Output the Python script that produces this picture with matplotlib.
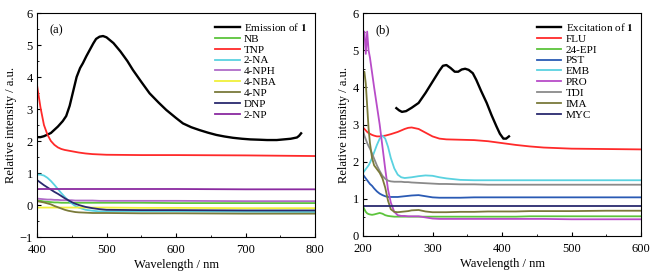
import numpy as np
import matplotlib
matplotlib.use("Agg")
from matplotlib import pyplot as plt
from matplotlib.ticker import MultipleLocator

plt.rcParams['font.family'] = ['Liberation Serif', 'DejaVu Serif']
plt.rcParams['font.size'] = 9
plt.rcParams['mathtext.fontset'] = 'stix'

# ---- panel (a): emission ----
em_x = [400, 405, 410, 420, 430, 437, 442, 447, 452, 457, 462, 466, 471, 476, 481, 485, 490, 495,
        500, 505, 510, 520, 530, 538, 550, 562, 575, 586, 600, 610, 622, 634, 646, 658, 670, 682,
        695, 707, 720, 731, 745, 755, 765, 774, 777, 780]
em_y = [2.12, 2.12, 2.15, 2.25, 2.45, 2.62, 2.78, 3.1, 3.55, 4.0, 4.28, 4.43, 4.65, 4.85, 5.05, 5.19,
        5.26, 5.28, 5.24, 5.15, 5.06, 4.8, 4.5, 4.22, 3.85, 3.49, 3.2, 2.97, 2.72, 2.55, 2.43, 2.34,
        2.26, 2.19, 2.14, 2.1, 2.07, 2.05, 2.04, 2.03, 2.03, 2.05, 2.07, 2.11, 2.16, 2.24]

a_x = [400, 405, 410, 415, 420, 425, 430, 435, 440, 445, 450, 455, 460, 470, 480, 490, 500, 550, 600, 700, 800]
a_series = {
    "NB":    [0.15, 0.13, 0.11, 0.1, 0.09, 0.08, 0.08, 0.07, 0.07, 0.07, 0.07, 0.07, 0.07, 0.07, 0.07, 0.07, 0.07, 0.07, 0.06, 0.06, 0.06],
    "TNP":   [3.75, 3.05, 2.5, 2.2, 2.0, 1.88, 1.8, 1.75, 1.72, 1.7, 1.68, 1.66, 1.64, 1.61, 1.59, 1.58, 1.57, 1.56, 1.56, 1.55, 1.53],
    "2-NA":  [0.95, 0.95, 0.92, 0.85, 0.75, 0.63, 0.5, 0.37, 0.25, 0.14, 0.05, -0.03, -0.08, -0.15, -0.18, -0.2, -0.2, -0.2, -0.2, -0.21, -0.22],
    "4-NPH": [0.2, 0.19, 0.18, 0.17, 0.17, 0.16, 0.16, 0.15, 0.15, 0.15, 0.15, 0.14, 0.14, 0.14, 0.14, 0.13, 0.13, 0.13, 0.13, 0.12, 0.12],
    "4-NBA": [-0.08, -0.08, -0.08, -0.08, -0.08, -0.08, -0.08, -0.08, -0.08, -0.08, -0.08, -0.08, -0.08, -0.08, -0.08, -0.08, -0.08, -0.09, -0.09, -0.1, -0.1],
    "4-NP":  [0.12, 0.1, 0.08, 0.05, 0.02, -0.03, -0.07, -0.11, -0.15, -0.18, -0.2, -0.22, -0.23, -0.24, -0.25, -0.25, -0.25, -0.26, -0.26, -0.27, -0.27],
    "DNP":   [0.78, 0.7, 0.62, 0.55, 0.48, 0.41, 0.35, 0.28, 0.21, 0.15, 0.09, 0.04, 0.0, -0.06, -0.1, -0.13, -0.15, -0.16, -0.16, -0.17, -0.17],
    "2-NP":  [0.5, 0.5, 0.5, 0.5, 0.5, 0.5, 0.5, 0.5, 0.5, 0.5, 0.5, 0.5, 0.5, 0.5, 0.5, 0.5, 0.5, 0.5, 0.5, 0.49, 0.49],
}
a_colors = ["#5cc43c", "#ff2a2a", "#5ad2e0", "#b06cc8", "#f0f03a", "#7a7a3a", "#2a2a6e", "#8a2aa0"]

# ---- panel (b): excitation ----
ex_x = [248, 252, 256, 262, 270, 280, 290, 300, 310, 315, 320, 326, 332, 337, 342, 347, 352, 358,
        363, 370, 378, 385, 392, 397, 402, 406, 410]
ex_y = [3.44, 3.38, 3.34, 3.36, 3.45, 3.58, 3.85, 4.15, 4.45, 4.58, 4.6, 4.52, 4.42, 4.42, 4.48, 4.5,
        4.47, 4.38, 4.2, 3.9, 3.58, 3.25, 2.95, 2.75, 2.62, 2.62, 2.68]

b_x = [200, 202, 204, 206, 208, 210, 213, 216, 220, 224, 228, 232, 236, 240, 245, 250, 255, 260, 265,
       270, 280, 290, 300, 310, 320, 340, 360, 380, 400, 420, 440, 460, 500, 550, 600]
b_series = {
    "FLU":    [2.92, 2.88, 2.84, 2.8, 2.77, 2.75, 2.72, 2.7, 2.68, 2.68, 2.69, 2.7, 2.72, 2.74, 2.77, 2.8, 2.84, 2.88, 2.91,
               2.92, 2.88, 2.78, 2.68, 2.62, 2.6, 2.59, 2.58, 2.55, 2.5, 2.45, 2.41, 2.38, 2.35, 2.34, 2.33],
    "24-EPI": [0.8, 0.72, 0.65, 0.61, 0.59, 0.58, 0.57, 0.58, 0.6, 0.62, 0.6, 0.56, 0.54, 0.53, 0.52, 0.52, 0.52, 0.52, 0.52,
               0.52, 0.52, 0.52, 0.52, 0.52, 0.52, 0.52, 0.52, 0.52, 0.52, 0.52, 0.53, 0.53, 0.53, 0.53, 0.53],
    "PST":    [1.65, 1.6, 1.55, 1.5, 1.45, 1.4, 1.35, 1.28, 1.2, 1.14, 1.1, 1.07, 1.05, 1.05, 1.05, 1.05, 1.06, 1.07, 1.08,
               1.09, 1.1, 1.07, 1.04, 1.03, 1.03, 1.03, 1.04, 1.04, 1.04, 1.04, 1.04, 1.04, 1.04, 1.04, 1.04],
    "EMB":    [1.7, 1.75, 1.8, 1.85, 1.9, 1.97, 2.1, 2.25, 2.45, 2.62, 2.7, 2.62, 2.4, 2.1, 1.82, 1.65, 1.58, 1.56, 1.57,
               1.58, 1.61, 1.63, 1.62, 1.58, 1.55, 1.51, 1.5, 1.5, 1.5, 1.5, 1.5, 1.5, 1.5, 1.5, 1.5],
    "PRO":    [5.3, 5.5, 4.9, 5.5, 5.0, 4.8, 4.4, 4.0, 3.5, 3.0, 2.4, 1.8, 1.25, 0.9, 0.65, 0.56, 0.54, 0.54, 0.53,
               0.53, 0.53, 0.5, 0.47, 0.46, 0.46, 0.46, 0.46, 0.46, 0.46, 0.46, 0.46, 0.46, 0.45, 0.45, 0.45],
    "TDI":    [2.85, 2.7, 2.6, 2.5, 2.42, 2.35, 2.22, 2.08, 1.9, 1.75, 1.62, 1.54, 1.49, 1.47, 1.46, 1.46, 1.46, 1.45, 1.45,
               1.44, 1.43, 1.42, 1.41, 1.4, 1.4, 1.39, 1.39, 1.38, 1.38, 1.38, 1.38, 1.38, 1.38, 1.38, 1.38],
    "IMA":    [4.3, 4.42, 4.1, 3.5, 2.9, 2.5, 2.1, 1.9, 1.8, 1.7, 1.55, 1.3, 0.95, 0.72, 0.65, 0.64, 0.65, 0.66, 0.67,
               0.69, 0.7, 0.66, 0.64, 0.64, 0.64, 0.65, 0.65, 0.66, 0.66, 0.66, 0.67, 0.67, 0.67, 0.68, 0.68],
    "MYC":    [0.82, 0.82, 0.82, 0.82, 0.82, 0.82, 0.82, 0.82, 0.82, 0.82, 0.82, 0.82, 0.82, 0.82, 0.82, 0.82, 0.82, 0.82, 0.82,
               0.82, 0.82, 0.82, 0.82, 0.82, 0.82, 0.82, 0.82, 0.82, 0.82, 0.82, 0.82, 0.82, 0.82, 0.82, 0.82],
}
b_colors = ["#ff2a2a", "#5cc43c", "#2a5ab4", "#5ad2e0", "#b84cc8", "#8a8a8a", "#7a7a3a", "#2a2a6e"]

fig = plt.figure(figsize=(6.59, 2.80), dpi=100)
ax1 = fig.add_axes([37 / 659, 1 - 237 / 280, 278 / 659, 224 / 280])
ax2 = fig.add_axes([363 / 659, 1 - 236 / 280, 278 / 659, 223 / 280])

lw = 1.3
ax1.plot(em_x, em_y, color="black", lw=lw + 0.4, label=r"Emission of $\mathbf{1}$")
for (name, ys), c in zip(a_series.items(), a_colors):
    ax1.plot(a_x, ys, color=c, lw=lw, label=name)
ax1.set_xlim(400, 800)
ax1.set_ylim(-1, 6)
ax1.text(0.045, 0.95, "(a)", transform=ax1.transAxes, va="top", ha="left")

ax2.plot(ex_x, ex_y, color="black", lw=lw + 0.4, label=r"Excitation of $\mathbf{1}$")
for (name, ys), c in zip(b_series.items(), b_colors):
    ax2.plot(b_x, ys, color=c, lw=lw, label=name)
ax2.set_xlim(200, 600)
ax2.set_ylim(0, 6)
ax2.text(0.045, 0.95, "(b)", transform=ax2.transAxes, va="top", ha="left")

for ax in (ax1, ax2):
    ax.xaxis.set_major_locator(MultipleLocator(100))
    ax.xaxis.set_minor_locator(MultipleLocator(50))
    ax.yaxis.set_major_locator(MultipleLocator(1))
    ax.yaxis.set_minor_locator(MultipleLocator(0.5))
    ax.set_xlabel("Wavelength / nm", labelpad=2)
    ax.set_ylabel("Relative intensity / a.u.", labelpad=2)
    ax.tick_params(which="both", direction="in")
    ax.tick_params(axis="x", pad=5)
    ax.tick_params(axis="y", pad=3)
    ax.tick_params(which="major", length=3)
    ax.tick_params(which="minor", length=1.5)
    ax.legend(loc="upper right", frameon=False, fontsize=8, handlelength=2.2,
              handletextpad=0.4, labelspacing=0.1, borderaxespad=0.3)

fig.savefig("out.png", dpi=100)
